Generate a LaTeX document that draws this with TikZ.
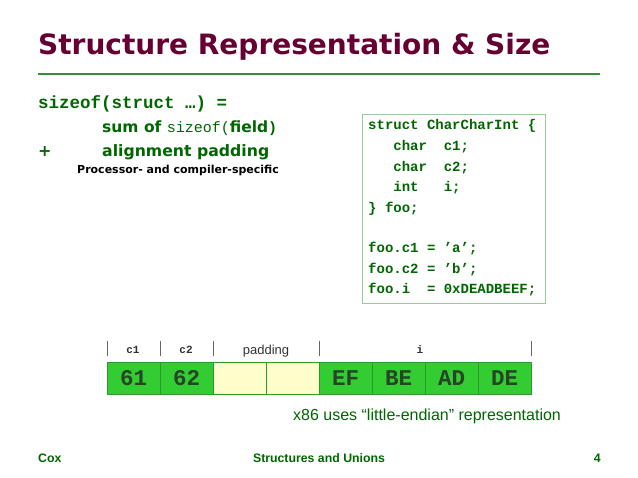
\documentclass[tikz,border=0pt]{standalone}
\usepackage{fontspec}
\setmainfont{DejaVu Sans}
\newfontfamily\vfont{DejaVu Sans}
\newfontfamily\afont{Liberation Sans}
\newfontfamily\mfont{Liberation Mono}
\definecolor{titlecol}{HTML}{660033}
\definecolor{txtgreen}{HTML}{006600}
\definecolor{rulegreen}{HTML}{3A8A3A}
\definecolor{boxgreen}{HTML}{99CC99}
\definecolor{cellgreen}{HTML}{33CC33}
\definecolor{cellborder}{HTML}{2A9A2A}
\definecolor{padyellow}{HTML}{FFFFCC}
\definecolor{celltext}{HTML}{264426}
\begin{document}
\begin{tikzpicture}[x=1pt,y=-1pt,
  txt/.style={anchor=base west,inner sep=0pt,text=txtgreen},
  code/.style={txt,font=\mfont\bfseries\fontsize{14}{14}\selectfont},
  cell/.style={draw=cellborder,fill=cellgreen,minimum width=53pt,minimum height=32pt,inner sep=0pt,anchor=north west,font=\mfont\bfseries\fontsize{22.5}{22.5}\selectfont,text=celltext},
  padcell/.style={cell,fill=padyellow},
  lab/.style={anchor=base,inner sep=0pt,text=black!80,font=\mfont\bfseries\fontsize{11}{11}\selectfont},
  tick/.style={draw=black!60,line width=0.8pt}]
\useasboundingbox[fill=white] (0,0) rectangle (638,478);
% title
\node[txt,text=titlecol,font=\vfont\bfseries\fontsize{28}{28}\selectfont] (title) at (38,55) {Structure Representation \& Size};
\draw[rulegreen,line width=1.2pt] (38,74) -- (600,74);
% formula
\node[txt,font=\mfont\bfseries\fontsize{17.5}{17.5}\selectfont] (l1) at (38,109) {sizeof(struct …) =};
\node[txt,font=\vfont\bfseries\fontsize{15.5}{15.5}\selectfont] (l2) at (102,133) {sum of {\mfont\mdseries\fontsize{15}{15}\selectfont sizeof(}field{\mfont\fontsize{15}{15}\selectfont )}};
\node[txt,font=\vfont\bfseries\fontsize{16}{16}\selectfont] (plus) at (38,157) {+};
\node[txt,font=\vfont\bfseries\fontsize{15.7}{15.7}\selectfont] (l3) at (102,157) {alignment padding};
\node[txt,text=black,font=\vfont\bfseries\fontsize{11}{11}\selectfont] (l4) at (77,174) {Processor- and compiler-specific};
% code box
\node[draw=boxgreen,line width=1pt,minimum width=183pt,minimum height=189pt,anchor=north west,inner sep=0pt] (box) at (362,114) {};
\node[code] (c1) at (368,130) {struct CharCharInt \{};
\node[code] (c2) at (368,151) {\ \ \ char\ \ c1;};
\node[code] (c3) at (368,171.5) {\ \ \ char\ \ c2;};
\node[code] (c4) at (368,192) {\ \ \ int\ \ \ i;};
\node[code] (c5) at (368,212.5) {\} foo;};
\node[code] (c6) at (368,253) {foo.c1 = ’a’;};
\node[code] (c7) at (368,273.5) {foo.c2 = ’b’;};
\node[code] (c8) at (368,294) {foo.i\ \ = 0xDEADBEEF;};
% memory cells
\node[cell] (m1) at (107,362) {61};
\node[cell] (m2) at (160,362) {62};
\node[padcell] (m3) at (213,362) {};
\node[padcell] (m4) at (266,362) {};
\node[cell] (m5) at (319,362) {EF};
\node[cell] (m6) at (372,362) {BE};
\node[cell] (m7) at (425,362) {AD};
\node[cell] (m8) at (478,362) {DE};
% ticks and labels
\foreach \x in {107,160,213,319,531} \draw[tick] (\x,341) -- (\x,356);
\node[lab] (lc1) at (133,354) {c1};
\node[lab] (lc2) at (186,354) {c2};
\node[lab,font=\afont\fontsize{13}{13}\selectfont] (lpad) at (266,355) {padding};
\node[lab] (li) at (420,354) {i};
% caption
\node[txt,font=\afont\fontsize{16}{16}\selectfont] (cap) at (293,421) {x86 uses “little-endian” representation};
% footer
\node[txt,font=\afont\bfseries\fontsize{12.3}{12.3}\selectfont] (f1) at (38,463) {Cox};
\node[anchor=base,inner sep=0pt,text=txtgreen,font=\afont\bfseries\fontsize{12.3}{12.3}\selectfont] (f2) at (319,463) {Structures and Unions};
\node[anchor=base east,inner sep=0pt,text=txtgreen,font=\afont\bfseries\fontsize{12.3}{12.3}\selectfont] (f3) at (601,463) {4};
\end{tikzpicture}
\end{document}
